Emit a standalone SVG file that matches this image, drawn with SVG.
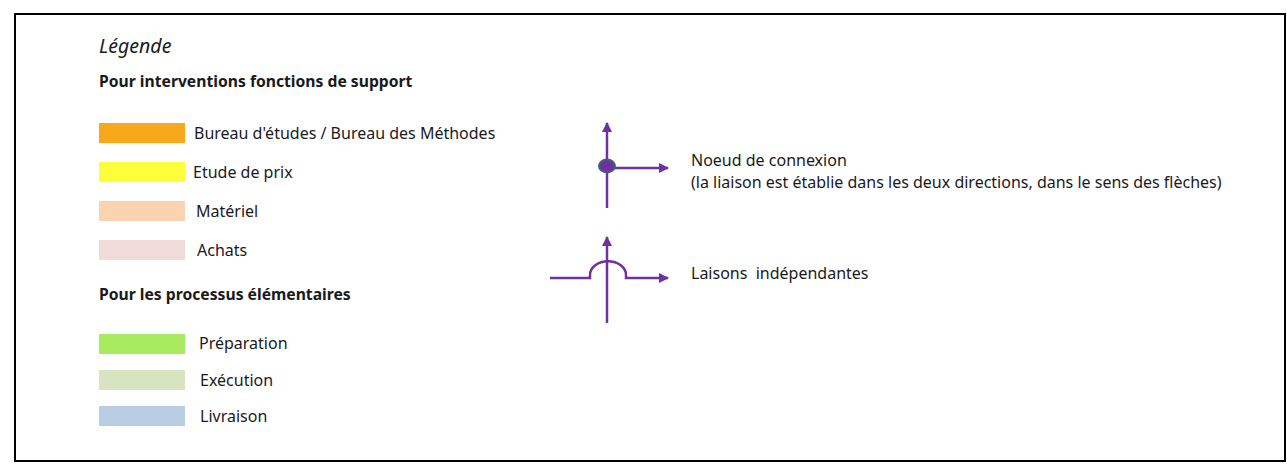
<svg xmlns="http://www.w3.org/2000/svg" width="1287" height="473" viewBox="0 0 1287 473">
<style>
text{font-family:"Noto Sans","Open Sans",sans-serif;font-size:16px;fill:#1a1a1a}
.h{font-weight:bold;font-size:15.7px}
.l{stroke:#7030A0;stroke-width:2.5;fill:none}
</style>
<defs>
<marker id="ah" viewBox="0 0 10 10" refX="9" refY="5" markerWidth="4" markerHeight="4" orient="auto" markerUnits="strokeWidth">
<path d="M0,0 L10,5 L0,10 z" fill="#7030A0"/>
</marker>
</defs>
<rect x="15" y="14" width="1270" height="447" fill="#fff" stroke="#000" stroke-width="2"/>
<text x="99" y="53" font-style="italic" style="font-size:19.5px">Légende</text>
<text x="99" y="87" class="h">Pour interventions fonctions de support</text>
<g id="bureau"><rect x="99" y="123" width="86" height="20" fill="#F7A81B"/><text x="194" y="139">Bureau d'études / Bureau des Méthodes</text></g>
<g id="etude"><rect x="99" y="162" width="86" height="20" fill="#FDFD3A"/><text x="193" y="178">Etude de prix</text></g>
<g id="materiel"><rect x="99" y="201" width="86" height="20" fill="#FBD3B1"/><text x="196" y="217">Matériel</text></g>
<g id="achats"><rect x="99" y="240" width="86" height="20" fill="#F1DADA"/><text x="197" y="256">Achats</text></g>
<text x="99" y="300" class="h">Pour les processus élémentaires</text>
<g id="preparation"><rect x="99" y="334" width="86" height="20" fill="#A8EB60"/><text x="199" y="349">Préparation</text></g>
<g id="execution"><rect x="99" y="370" width="86" height="20" fill="#D8E4BF"/><text x="200" y="386">Exécution</text></g>
<g id="livraison"><rect x="99" y="406" width="86" height="20" fill="#B8CCE4"/><text x="200" y="422">Livraison</text></g>
<g id="connectors">
<line class="l" x1="607" y1="208" x2="607" y2="123" marker-end="url(#ah)"/>
<line class="l" x1="607" y1="168" x2="668" y2="168" marker-end="url(#ah)"/>
<ellipse cx="607" cy="166" rx="8" ry="6.5" fill="#7030A0" stroke="#41607A" stroke-width="2"/>
<line class="l" x1="607" y1="323" x2="607" y2="237" marker-end="url(#ah)"/>
<path class="l" d="M550,278 H590 V275 A17,13 0 0 1 626,275 V278 H668" marker-end="url(#ah)"/>
</g>
<g id="noeud"><text x="691" y="166">Noeud de connexion</text><text x="691" y="188">(la liaison est établie dans les deux directions, dans le sens des flèches)</text></g>
<g id="laisons"><text x="691" y="279" xml:space="preserve">Laisons  indépendantes</text></g>
</svg>
